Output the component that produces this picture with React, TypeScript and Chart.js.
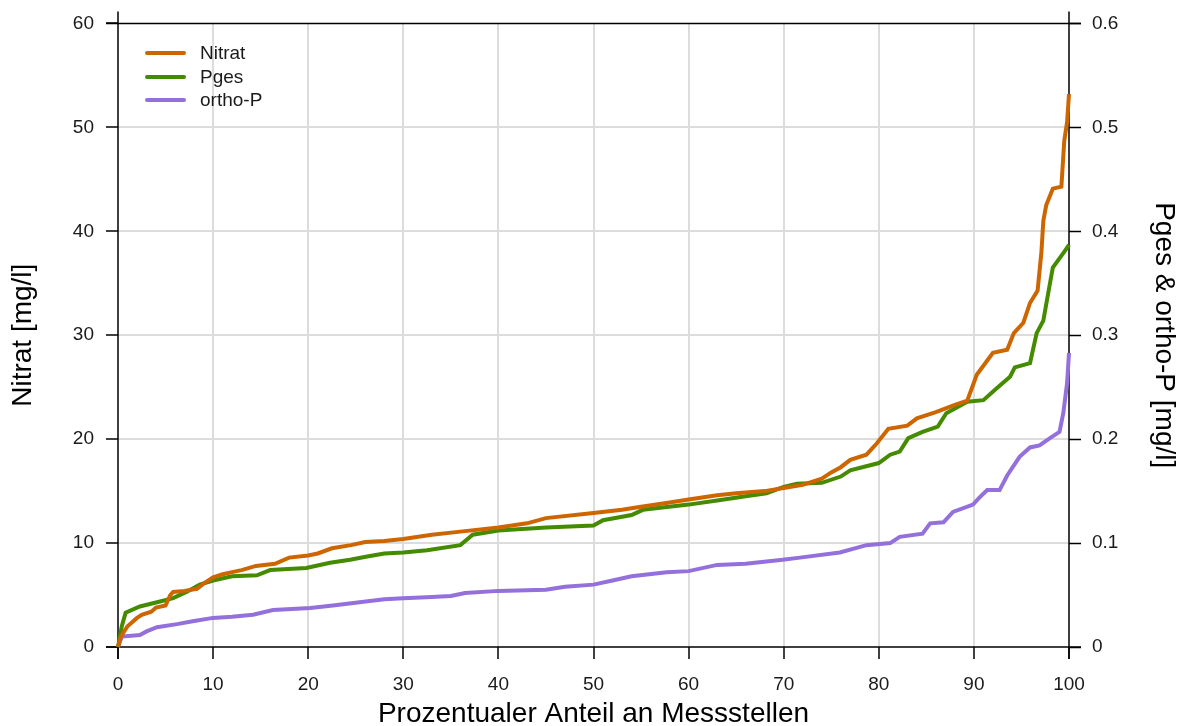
import React, { useEffect, useRef } from "react";
import { Chart, registerables } from "chart.js";

Chart.register(...registerables);

const FONT = "'Liberation Sans', Arial, sans-serif";

// Cumulative share of stations (%) and concentration values
const nitratX = [0, 0.3, 1, 2, 2.5, 3.5, 4, 5, 5.5, 5.8, 7, 8.3, 9, 10, 11, 12, 13, 14.5, 16.5, 18, 20, 21, 22.5, 24.5, 26, 28, 30, 33, 36, 40, 43, 45, 50, 53, 55, 58, 60, 63, 65, 68, 70, 72, 74, 75, 76, 77, 78.7, 79.8, 81, 83, 84, 86, 88, 89.3, 90.3, 92, 93.5, 94.2, 95.2, 95.9, 96.7, 97.1, 97.3, 97.6, 98.3, 99.2, 99.5, 99.8, 100];
const nitratValues = [0, 1.0, 2.0, 2.8, 3.1, 3.4, 3.8, 4.0, 5.0, 5.3, 5.4, 5.6, 6.1, 6.7, 7.0, 7.2, 7.4, 7.8, 8.0, 8.6, 8.8, 9.0, 9.5, 9.8, 10.1, 10.2, 10.4, 10.8, 11.1, 11.5, 11.9, 12.4, 12.9, 13.2, 13.5, 13.9, 14.2, 14.6, 14.8, 15.0, 15.3, 15.6, 16.2, 16.8, 17.3, 18.0, 18.5, 19.6, 21.0, 21.3, 22.0, 22.6, 23.3, 23.7, 26.2, 28.3, 28.6, 30.2, 31.2, 33.1, 34.3, 38.0, 41.0, 42.5, 44.1, 44.3, 48.7, 50.5, 53.2];

const pgesX = [0, 0.4, 0.8, 2.3, 4.1, 5.8, 7.2, 8.6, 10, 12, 14.6, 16, 19.8, 22.3, 24.4, 26.2, 28, 30, 32.5, 36, 37.3, 40, 45, 50, 51, 54, 55.2, 60, 63, 66, 68.2, 70, 71.4, 74, 76, 77, 80, 81.2, 82.2, 83.1, 84.6, 86.2, 87.1, 89.3, 91, 92.4, 93.8, 94.3, 95.9, 96.6, 97.3, 98, 98.3, 99.4, 100];
const pgesValues = [0, 0.02, 0.033, 0.039, 0.043, 0.047, 0.053, 0.06, 0.064, 0.068, 0.069, 0.074, 0.076, 0.081, 0.084, 0.087, 0.09, 0.091, 0.093, 0.098, 0.108, 0.112, 0.115, 0.117, 0.122, 0.127, 0.132, 0.137, 0.141, 0.145, 0.148, 0.154, 0.157, 0.158, 0.164, 0.17, 0.177, 0.185, 0.188, 0.201, 0.207, 0.212, 0.225, 0.236, 0.2375, 0.249, 0.26, 0.269, 0.273, 0.302, 0.314, 0.35, 0.365, 0.379, 0.387];

const orthoPX = [0, 0.4, 2.3, 3, 4.1, 6.2, 8, 10, 12, 14.2, 16.3, 20.2, 22.6, 25.4, 28, 30, 33, 35, 36.5, 40, 45, 47, 50, 52, 54, 57.7, 60, 63, 66, 69.9, 71.7, 75.9, 78.7, 81.2, 82.2, 84.6, 85.4, 86.8, 87.8, 89.9, 90.6, 91.4, 92.7, 93.5, 94.8, 95.9, 96.9, 98, 99, 99.4, 99.8, 100];
const orthoPValues = [0, 0.01, 0.0115, 0.015, 0.019, 0.022, 0.025, 0.028, 0.029, 0.031, 0.0355, 0.0375, 0.04, 0.043, 0.046, 0.047, 0.048, 0.049, 0.052, 0.054, 0.055, 0.058, 0.06, 0.064, 0.068, 0.072, 0.073, 0.079, 0.08, 0.084, 0.086, 0.091, 0.098, 0.1, 0.106, 0.109, 0.119, 0.12, 0.13, 0.137, 0.144, 0.151, 0.151, 0.165, 0.183, 0.192, 0.194, 0.201, 0.207, 0.225, 0.254, 0.283];

const seriesLabels = ["Nitrat", "Pges", "ortho-P"];
const seriesColors = ["#CD6600", "#458B00", "#9370DB"];

const xTitle = "Prozentualer Anteil an Messstellen";
const yLeftTitle = "Nitrat [mg/l]";
const yRightTitle = "Pges & ortho-P [mg/l]";

const toPoints = (xs: number[], ys: number[]) => xs.map((x, i) => ({ x, y: ys[i] }));

// Box frame with the axis lines running past the plot corners
const framePlugin = {
  id: "frame",
  beforeDatasetsDraw(chart: any) {
    const { ctx, chartArea } = chart;
    const { left, right, top, bottom } = chartArea;
    const ext = 12;
    ctx.save();
    ctx.strokeStyle = "#000";
    ctx.lineWidth = 1.5;
    ctx.beginPath();
    ctx.moveTo(left - ext, top);
    ctx.lineTo(right + ext, top);
    ctx.moveTo(left - ext, bottom);
    ctx.lineTo(right + ext, bottom);
    ctx.moveTo(left, top - ext);
    ctx.lineTo(left, bottom + ext);
    ctx.moveTo(right, top - ext);
    ctx.lineTo(right, bottom + ext);
    ctx.stroke();
    ctx.restore();
  },
};

// Legend drawn inside the plot area, top-left
const insideLegendPlugin = {
  id: "insideLegend",
  afterDraw(chart: any) {
    const { ctx } = chart;
    const rows = [53, 77, 100];
    ctx.save();
    chart.data.datasets.forEach((ds: any, i: number) => {
      const y = rows[i];
      ctx.strokeStyle = ds.borderColor;
      ctx.lineWidth = 4;
      ctx.lineCap = "round";
      ctx.beginPath();
      ctx.moveTo(147, y);
      ctx.lineTo(184, y);
      ctx.stroke();
      ctx.fillStyle = "#1a1a1a";
      ctx.font = `19px ${FONT}`;
      ctx.textBaseline = "middle";
      ctx.textAlign = "left";
      ctx.fillText(ds.label, 200, y + 1);
    });
    ctx.restore();
  },
};

const gridColor = (ctx: any, maxVal: number) => {
  const v = ctx.tick ? ctx.tick.value : 0;
  return v === 0 || Math.abs(v - maxVal) < 1e-9 ? "rgba(0,0,0,0)" : "#dcdcdc";
};

export default function App() {
  const canvasRef = useRef<HTMLCanvasElement | null>(null);

  useEffect(() => {
    if (!canvasRef.current) return;
    const chart = new Chart(canvasRef.current, {
      type: "line",
      data: {
        datasets: [
          {
            label: seriesLabels[0],
            data: toPoints(nitratX, nitratValues),
            borderColor: seriesColors[0],
            backgroundColor: seriesColors[0],
            yAxisID: "y",
          },
          {
            label: seriesLabels[1],
            data: toPoints(pgesX, pgesValues),
            borderColor: seriesColors[1],
            backgroundColor: seriesColors[1],
            yAxisID: "y1",
          },
          {
            label: seriesLabels[2],
            data: toPoints(orthoPX, orthoPValues),
            borderColor: seriesColors[2],
            backgroundColor: seriesColors[2],
            yAxisID: "y1",
          },
        ].map((d) => ({
          ...d,
          borderWidth: 4,
          pointRadius: 0,
          tension: 0,
          clip: false as any,
        })),
      },
      options: {
        responsive: false,
        animation: false,
        layout: { padding: { top: 23, left: 0, right: 0, bottom: 0 } },
        plugins: {
          legend: { display: false },
          tooltip: { enabled: false },
        },
        scales: {
          x: {
            type: "linear",
            min: 0,
            max: 100,
            ticks: {
              stepSize: 10,
              color: "#1a1a1a",
              font: { family: FONT, size: 19 },
              padding: 14,
              maxRotation: 0,
            },
            grid: {
              color: (c: any) => gridColor(c, 100),
              lineWidth: 2,
              tickColor: "#000",
              tickLength: 12,
              tickWidth: 1.5,
            },
            border: { display: false },
            title: {
              display: true,
              text: xTitle,
              color: "#000",
              font: { family: FONT, size: 28, lineHeight: 0.86 },
              padding: 0,
            },
            afterFit: (s: any) => {
              s.height = 79;
            },
          },
          y: {
            type: "linear",
            position: "left",
            min: 0,
            max: 60,
            ticks: {
              stepSize: 10,
              color: "#1a1a1a",
              font: { family: FONT, size: 19 },
              padding: 12,
            },
            grid: {
              color: (c: any) => gridColor(c, 60),
              lineWidth: 2,
              tickColor: "#000",
              tickLength: 12,
              tickWidth: 1.5,
            },
            border: { display: false },
            title: {
              display: true,
              text: yLeftTitle,
              color: "#000",
              font: { family: FONT, size: 28, lineHeight: 1.2 },
              padding: { top: 6, bottom: 0 },
            },
            afterFit: (s: any) => {
              s.width = 118;
            },
          },
          y1: {
            type: "linear",
            position: "right",
            min: 0,
            max: 0.6,
            ticks: {
              stepSize: 0.1,
              color: "#1a1a1a",
              font: { family: FONT, size: 19 },
              padding: 11,
              callback: (v: any) => (Number(v) === 0 ? "0" : Number(v).toFixed(1)),
            },
            grid: {
              drawOnChartArea: false,
              tickColor: "#000",
              tickLength: 12,
              tickWidth: 1.5,
            },
            border: { display: false },
            title: {
              display: true,
              text: yRightTitle,
              color: "#000",
              font: { family: FONT, size: 28, lineHeight: 1.2 },
              padding: { top: 0, bottom: 0 },
            },
            afterFit: (s: any) => {
              s.width = 112;
            },
          },
        },
      },
      plugins: [framePlugin, insideLegendPlugin],
    });
    return () => chart.destroy();
  }, []);

  return (
    <div style={{ position: "fixed", left: 0, top: 0, width: 1181, height: 726, background: "#fff" }}>
      <canvas ref={canvasRef} width={1181} height={726} style={{ display: "block" }} />
    </div>
  );
}
